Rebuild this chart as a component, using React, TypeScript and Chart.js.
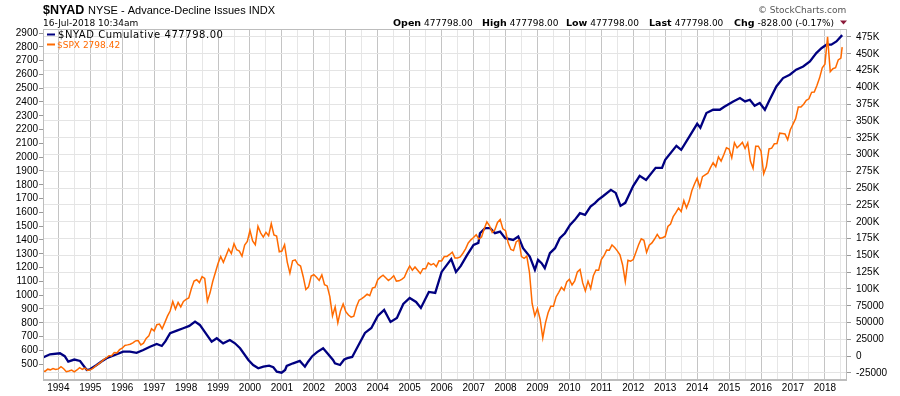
import React, { useEffect, useRef } from "react";
import { Chart, registerables } from "chart.js";

Chart.register(...registerables);

// ---- x axis (decimal years) ----
const yearTicks = [1994, 1995, 1996, 1997, 1998, 1999, 2000, 2001, 2002, 2003, 2004, 2005, 2006, 2007, 2008, 2009, 2010, 2011, 2012, 2013, 2014, 2015, 2016, 2017, 2018];
const xMin = 1993.52;
const xMax = 2018.66;
const lastDate = 2018.54;

// ---- $SPX monthly closes, Jun 1993 .. Jul 2018 (left axis) ----
const spxValues = [
  450, 448, 464, 459, 468, 462, 466,
  482, 467, 446, 451, 457, 444, 458, 475, 463, 472, 454, 459,
  470, 487, 501, 515, 533, 545, 562, 562, 584, 582, 605, 616,
  636, 640, 645, 654, 669, 671, 640, 652, 687, 705, 757, 741,
  786, 791, 757, 801, 848, 885, 954, 899, 947, 915, 955, 970,
  980, 1049, 1102, 1112, 1091, 1134, 1121, 957, 1017, 1099, 1164, 1229,
  1280, 1238, 1286, 1335, 1302, 1373, 1329, 1320, 1283, 1363, 1389, 1469,
  1394, 1366, 1499, 1452, 1421, 1455, 1431, 1518, 1437, 1429, 1315, 1320,
  1366, 1240, 1160, 1249, 1256, 1224, 1211, 1134, 1041, 1060, 1139, 1148,
  1130, 1107, 1147, 1076, 1067, 990, 850, 916, 800, 886, 936, 880,
  856, 841, 848, 917, 964, 975, 990, 1008, 996, 1051, 1058, 1112,
  1131, 1145, 1126, 1107, 1121, 1141, 1102, 1104, 1115, 1130, 1174, 1212,
  1181, 1204, 1181, 1157, 1192, 1191, 1234, 1220, 1229, 1207, 1249, 1248,
  1280, 1281, 1295, 1311, 1270, 1270, 1277, 1304, 1336, 1378, 1401, 1418,
  1438, 1407, 1421, 1482, 1531, 1503, 1455, 1474, 1527, 1549, 1481, 1468,
  1379, 1331, 1323, 1386, 1400, 1280, 1267, 1283, 1165, 940, 850, 903,
  826, 690, 798, 873, 919, 919, 987, 1021, 1057, 1036, 1096, 1115,
  1074, 1104, 1169, 1187, 1089, 1031, 1102, 1049, 1141, 1183, 1181, 1258,
  1286, 1327, 1326, 1364, 1345, 1321, 1292, 1219, 1100, 1253, 1247, 1258,
  1312, 1366, 1408, 1398, 1310, 1362, 1379, 1407, 1441, 1412, 1416, 1426,
  1498, 1515, 1569, 1598, 1631, 1606, 1686, 1633, 1682, 1757, 1806, 1848,
  1783, 1859, 1872, 1884, 1924, 1960, 1931, 2003, 1972, 2018, 2068, 2059,
  1995, 2105, 2068, 2086, 2107, 2063, 2104, 1972, 1920, 2079, 2080, 2044,
  1880, 1932, 2060, 2065, 2097, 2099, 2174, 2171, 2168, 2126, 2199, 2239,
  2279, 2364, 2363, 2384, 2412, 2423, 2470, 2472, 2519, 2575, 2648, 2674,
  2872, 2620, 2641, 2648, 2705, 2718, 2798,
];

// ---- $NYAD cumulative (right axis) ----
const nyadDates = [
  1993.52, 1993.74, 1994.05, 1994.2, 1994.31, 1994.5, 1994.68, 1994.89, 1994.99,
  1995.2, 1995.35, 1995.51, 1995.77, 1996.03, 1996.24, 1996.45, 1996.66, 1996.87,
  1997.08, 1997.24, 1997.35, 1997.5, 1997.71, 1997.91, 1998.1, 1998.28, 1998.43,
  1998.65, 1998.8, 1998.96, 1999.16, 1999.37, 1999.53, 1999.69, 1999.95, 2000.1,
  2000.26, 2000.42, 2000.6, 2000.73, 2000.84, 2000.99, 2001.1, 2001.15, 2001.35,
  2001.56, 2001.72, 2001.82, 2001.95, 2002.1, 2002.29, 2002.45, 2002.6, 2002.66,
  2002.82, 2002.95, 2003.05, 2003.2, 2003.4, 2003.6, 2003.8, 2004.0, 2004.2,
  2004.4, 2004.6, 2004.8, 2005.0, 2005.2, 2005.35, 2005.6, 2005.8, 2006.0,
  2006.3, 2006.45, 2006.6, 2006.8, 2007.0, 2007.15, 2007.2, 2007.36, 2007.52,
  2007.67, 2007.83, 2007.99, 2008.24, 2008.4, 2008.55, 2008.76, 2008.92, 2009.02,
  2009.13, 2009.23, 2009.39, 2009.55, 2009.7, 2009.86, 2010.02, 2010.17, 2010.33,
  2010.49, 2010.66, 2010.8, 2010.9, 2011.05, 2011.3, 2011.45, 2011.6, 2011.75,
  2012.0, 2012.2, 2012.4, 2012.7, 2012.9, 2013.0, 2013.35, 2013.5, 2013.75,
  2014.0, 2014.1, 2014.29, 2014.5, 2014.71, 2014.85, 2015.13, 2015.34, 2015.5,
  2015.65, 2015.8, 2015.96, 2016.12, 2016.27, 2016.48, 2016.69, 2016.9, 2017.1,
  2017.32, 2017.53, 2017.73, 2017.9, 2018.05, 2018.2, 2018.36, 2018.54,
];
const nyadValues = [
  -2000, 2800, 4300, 0, -8200, -5000, -7100, -20600, -19500,
  -13100, -8000, -3100, 1800, 6700, 6700, 5000, 9200, 14100,
  18200, 15200, 22000, 34100, 38000, 41600, 45000, 51400, 46500,
  31600, 21600, 26700, 19200, 24100, 19200, 11800, -5700, -13100,
  -18000, -15600, -14000, -16500, -23100, -24600, -20600, -14600, -10600,
  -7100, -15600, -8200, 0, 6000, 11800, 3000, -5700, -10600,
  -13100, -5000, -3000, -1200, 16700, 34600, 42000, 59900, 68800,
  50900, 56900, 77700, 86700, 80700, 71800, 95600, 94100, 125400,
  144600, 125400, 134300, 150700, 165600, 168600, 183000, 190500, 190500,
  183000, 185400, 175600, 173000, 178000, 160700, 148200, 128400, 143300,
  138400, 130900, 153300, 160700, 175600, 183000, 195400, 202900, 212800,
  210300, 222700, 227700, 232600, 238000, 247500, 243000, 223700, 228200,
  253500, 268400, 262400, 280300, 280300, 292200, 313100, 307100, 326500,
  345800, 339900, 361800, 366700, 366700, 371200, 379100, 384100, 379100,
  381600, 372600, 376700, 366700, 381600, 401400, 413900, 418800, 426300,
  431200, 438600, 451100, 458600, 463500, 463500, 468400, 477798,
];

// ---- axis tick values ----
const leftTicks = [500, 600, 700, 800, 900, 1000, 1100, 1200, 1300, 1400, 1500, 1600, 1700, 1800, 1900, 2000, 2100, 2200, 2300, 2400, 2500, 2600, 2700, 2800, 2900];
const rightTicks = [-25000, 0, 25000, 50000, 75000, 100000, 125000, 150000, 175000, 200000, 225000, 250000, 275000, 300000, 325000, 350000, 375000, 400000, 425000, 450000, 475000];

const NAVY = "#000080";
const ORANGE = "#ff6a00";
const TICK_FONT = { family: "'Liberation Sans', Arial, sans-serif", size: 10 };

const headerPlugin = {
  id: "header",
  afterDraw(chart: any) {
    const ctx = chart.ctx as CanvasRenderingContext2D;
    const a = chart.chartArea;
    ctx.save();
    // plot border
    ctx.strokeStyle = "#bdbdbd";
    ctx.lineWidth = 1;
    ctx.strokeRect(Math.round(a.left) + 0.5, Math.round(a.top) + 0.5, Math.round(a.right - a.left), Math.round(a.bottom - a.top));

    ctx.textBaseline = "alphabetic";
    ctx.textAlign = "left";
    ctx.fillStyle = "#000";
    ctx.font = "bold 12.5px 'Liberation Sans', Arial, sans-serif";
    ctx.fillText("$NYAD", 43, 13.5);
    ctx.font = "11px 'Liberation Sans', Arial, sans-serif";
    ctx.fillText("NYSE - Advance-Decline Issues INDX", 88, 13.5);

    ctx.font = "9px 'DejaVu Sans', Verdana, sans-serif";
    ctx.fillText("16-Jul-2018 10:34am", 43, 26);

    // stockcharts credit
    ctx.fillStyle = "#555";
    ctx.fillText("\u00A9 StockCharts.com", 758, 12.5);

    // right header
    const segs: [string, string, number][] = [
      ["Open", "477798.00", 393],
      ["High", "477798.00", 482],
      ["Low", "477798.00", 566],
      ["Last", "477798.00", 649],
      ["Chg", "-828.00 (-0.17%)", 734],
    ];
    for (const [lab, val, x] of segs) {
      ctx.fillStyle = "#000";
      ctx.font = "bold 9.5px 'DejaVu Sans', Verdana, sans-serif";
      ctx.fillText(lab, x, 26);
      const w = ctx.measureText(lab).width;
      ctx.font = "9px 'DejaVu Sans', Verdana, sans-serif";
      ctx.fillText(val, x + w + 3, 26);
    }
    // down triangle
    ctx.fillStyle = "#8b1a3a";
    ctx.beginPath();
    ctx.moveTo(840, 20.5);
    ctx.lineTo(847, 20.5);
    ctx.lineTo(843.5, 24.5);
    ctx.closePath();
    ctx.fill();

    // legend
    ctx.lineWidth = 2;
    ctx.strokeStyle = NAVY;
    ctx.beginPath();
    ctx.moveTo(47, 34.5);
    ctx.lineTo(55, 34.5);
    ctx.stroke();
    ctx.fillStyle = "#000";
    ctx.font = "10px 'DejaVu Sans', Verdana, sans-serif";
    (ctx as any).letterSpacing = "0.55px";
    ctx.fillText("$NYAD Cumulative 477798.00", 58, 38);
    (ctx as any).letterSpacing = "0px";
    ctx.strokeStyle = ORANGE;
    ctx.beginPath();
    ctx.moveTo(47, 44.5);
    ctx.lineTo(55, 44.5);
    ctx.stroke();
    ctx.fillStyle = ORANGE;
    ctx.font = "9px 'DejaVu Sans', Verdana, sans-serif";
    ctx.fillText("$SPX 2798.42", 57, 48);
    ctx.restore();
  },
};

export default function App() {
  const ref = useRef<HTMLCanvasElement>(null);

  useEffect(() => {
    if (!ref.current) return;
    const spxData = spxValues.map((v, i) => ({
      x: Math.min(Math.max(1993.5 + i / 12, xMin), lastDate),
      y: v,
    }));
    const nyadData = nyadDates.map((d, i) => ({ x: d, y: nyadValues[i] }));
    const halfTicks = yearTicks.map((y) => y + 0.5).filter((v) => v < xMax);
    const allX = [...yearTicks, ...halfTicks].sort((a, b) => a - b);

    const chart = new Chart(ref.current, {
      type: "line",
      data: {
        datasets: [
          {
            label: "$SPX",
            data: spxData,
            yAxisID: "y",
            borderColor: ORANGE,
            borderWidth: 1.5,
            pointRadius: 0,
            tension: 0,
          },
          {
            label: "$NYAD Cumulative",
            data: nyadData,
            yAxisID: "y1",
            borderColor: NAVY,
            borderWidth: 2.3,
            pointRadius: 0,
            tension: 0,
          },
        ],
      },
      options: {
        animation: false,
        responsive: false,
        parsing: false,
        normalized: true,
        layout: { padding: { top: 29, left: 0, right: 0, bottom: 0 } },
        plugins: { legend: { display: false }, tooltip: { enabled: false } },
        scales: {
          x: {
            type: "linear",
            min: xMin,
            max: xMax,
            afterBuildTicks: (s: any) => {
              s.ticks = allX.map((v) => ({ value: v }));
            },
            afterFit: (s: any) => {
              s.height = 16.5;
            },
            ticks: {
              autoSkip: false,
              maxRotation: 0,
              padding: 3,
              color: "#000",
              font: TICK_FONT,
              callback: (v: any) => (Number.isInteger(v) ? String(v) : ""),
            },
            grid: {
              drawTicks: false,
              color: (c: any) => (c.tick && Number.isInteger(c.tick.value) ? "#c4c4c4" : "#e6e6e6"),
            },
            border: { color: "#bdbdbd" },
          },
          y: {
            type: "linear",
            position: "left",
            min: 389,
            max: 2929,
            afterBuildTicks: (s: any) => {
              s.ticks = leftTicks.map((v) => ({ value: v }));
            },
            afterFit: (s: any) => {
              s.width = 43;
            },
            ticks: { autoSkip: false, padding: 1, color: "#000", font: TICK_FONT, callback: (v: any) => String(v) },
            grid: { drawOnChartArea: false, drawTicks: true, tickLength: 4, tickColor: "#999" },
            border: { color: "#bdbdbd" },
          },
          y1: {
            type: "linear",
            position: "right",
            min: -34700,
            max: 486900,
            afterBuildTicks: (s: any) => {
              s.ticks = rightTicks.map((v) => ({ value: v }));
            },
            afterFit: (s: any) => {
              s.width = 54;
            },
            ticks: {
              autoSkip: false,
              padding: 5,
              color: "#000",
              font: TICK_FONT,
              callback: (v: any) => (v >= 100000 ? v / 1000 + "K" : String(v)),
            },
            grid: { color: "#e4e4e4", drawTicks: true, tickLength: 5, tickColor: "#999" },
            border: { color: "#bdbdbd" },
          },
        },
      },
      plugins: [headerPlugin],
    } as any);
    return () => chart.destroy();
  }, []);

  return (
    <div style={{ position: "absolute", left: 0, top: 0, width: 900, height: 396, background: "#fff" }}>
      <canvas ref={ref} width={900} height={396} style={{ display: "block" }} />
    </div>
  );
}
